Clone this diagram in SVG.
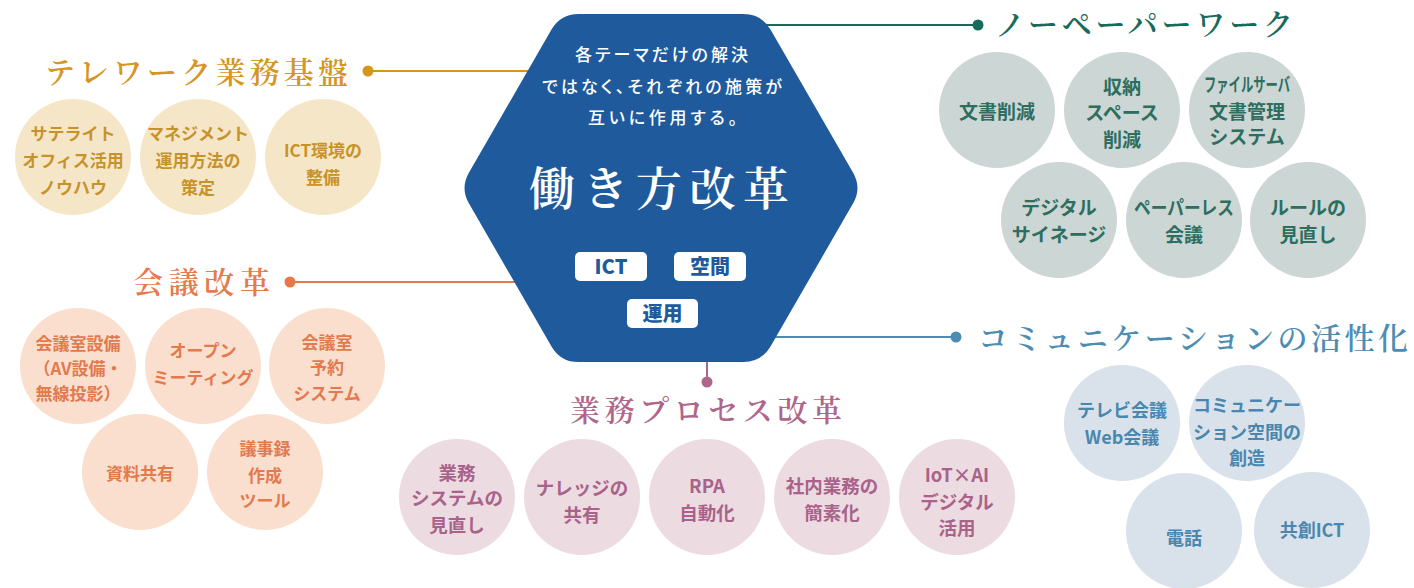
<svg xmlns="http://www.w3.org/2000/svg" width="1414" height="588" viewBox="0 0 1414 588">
<style>
  .t { font-family: "Noto Sans CJK JP", "Noto Sans", sans-serif; font-weight: 700; font-size: 17.5px; text-anchor: middle; }
  .ttl { font-family: "Noto Serif CJK JP", "Noto Sans CJK JP", serif; font-weight: 600; font-size: 30px; }
  .gold-c { fill: #f6e6c8; } .gold-t { fill: #c8922a; font-size: 17px; }
  .teal-c { fill: #ccd6d4; } .teal-t { fill: #2d6e5f; font-size: 19px; }
  .org-c { fill: #fadfcf; } .org-t { fill: #e27a4e; font-size: 17px; }
  .pink-c { fill: #ecdbe1; } .pink-t { fill: #a9628a; font-size: 18.5px; }
  .blue-c { fill: #d9e2ea; } .blue-t { fill: #4a87ae; font-size: 18px; }
  .ln { stroke-width: 2; fill: none; }
  .hx { font-family: "Noto Sans CJK JP", sans-serif; font-weight: 500; font-size: 17px; fill: #ffffff; font-feature-settings: "palt"; }
  .pill { fill: #ffffff; }
  .pt { font-family: "Noto Sans CJK JP", "Noto Sans", sans-serif; font-weight: 900; font-size: 20px; fill: #1f5b9c; text-anchor: middle; }
</style>

<g id="connectors">
  <line class="ln" x1="368" y1="71" x2="620" y2="71" stroke="#d4961e"/>
  <circle cx="368" cy="71" r="5.5" fill="#d4961e"/>
  <line class="ln" x1="700" y1="25" x2="978" y2="25" stroke="#176b5b"/>
  <circle cx="978" cy="25" r="5.5" fill="#176b5b"/>
  <line class="ln" x1="290" y1="282" x2="620" y2="282" stroke="#e8784a"/>
  <circle cx="290" cy="282" r="5.5" fill="#e8784a"/>
  <line class="ln" x1="707" y1="300" x2="707" y2="382" stroke="#b0668a"/>
  <circle cx="707" cy="382" r="5.5" fill="#b0668a"/>
  <line class="ln" x1="720" y1="337" x2="956" y2="337" stroke="#4e8db3"/>
  <circle cx="956" cy="337" r="5.5" fill="#4e8db3"/>
</g>

<g id="hub">
  <path d="M578.5,14 L743.5,14 Q761.5,14 770.5,29.6 L853,172.4 Q862,188 853,203.6 L770.5,346.4 Q761.5,362 743.5,362 L578.5,362 Q560.5,362 551.5,346.4 L469,203.6 Q460,188 469,172.4 L551.5,29.6 Q560.5,14 578.5,14 Z" fill="#1f5b9c"/>
  <text class="hx" x="575" y="61" textLength="173" lengthAdjust="spacing">各テーマだけの解決</text>
  <text class="hx" x="542" y="93" textLength="240" lengthAdjust="spacing">ではなく、それぞれの施策が</text>
  <text class="hx" x="588" y="124" textLength="149" lengthAdjust="spacing">互いに作用する。</text>
  <text x="529" y="205" font-family="Noto Serif CJK JP, Noto Sans CJK JP, serif" font-weight="600" font-size="46" fill="#ffffff" textLength="260" lengthAdjust="spacing">働き方改革</text>
  <rect class="pill" x="575" y="252" width="72" height="29" rx="5"/>
  <text class="pt" x="611" y="273.5">ICT</text>
  <rect class="pill" x="674" y="252" width="72" height="29" rx="5"/>
  <text class="pt" x="710" y="273.5">空間</text>
  <rect class="pill" x="627" y="299" width="71" height="29" rx="5"/>
  <text class="pt" x="662.5" y="320.5">運用</text>
</g>

<g id="telework">
  <text class="ttl" x="45" y="83" fill="#d4961e" textLength="303" lengthAdjust="spacing">テレワーク業務基盤</text>
  <g id="tw1"><circle class="gold-c" cx="73" cy="157" r="58"/>
    <text class="t gold-t" x="73" y="139.5">サテライト</text>
    <text class="t gold-t" x="73" y="167">オフィス活用</text>
    <text class="t gold-t" x="73" y="194">ノウハウ</text></g>
  <g id="tw2"><circle class="gold-c" cx="198" cy="157" r="58"/>
    <text class="t gold-t" x="198" y="139.5">マネジメント</text>
    <text class="t gold-t" x="198" y="167">運用方法の</text>
    <text class="t gold-t" x="198" y="194">策定</text></g>
  <g id="tw3"><circle class="gold-c" cx="323" cy="157" r="58"/>
    <text class="t gold-t" x="323" y="156.5">ICT環境の</text>
    <text class="t gold-t" x="323" y="183.5">整備</text></g>
</g>

<g id="paperless">
  <text class="ttl" x="995" y="35" fill="#176b5b" textLength="298" lengthAdjust="spacing">ノーペーパーワーク</text>
  <g id="pp1"><circle class="teal-c" cx="997" cy="110" r="58"/>
    <text class="t teal-t" x="997" y="118.5">文書削減</text></g>
  <g id="pp2"><circle class="teal-c" cx="1122" cy="110" r="58"/>
    <text class="t teal-t" x="1122" y="93.5">収納</text>
    <text class="t teal-t" x="1122" y="120">スペース</text>
    <text class="t teal-t" x="1122" y="147">削減</text></g>
  <g id="pp3"><circle class="teal-c" cx="1247" cy="110" r="58"/>
    <text class="t teal-t" x="1247" y="92" font-size="15" textLength="86" lengthAdjust="spacingAndGlyphs">ファイルサーバ</text>
    <text class="t teal-t" x="1247" y="119">文書管理</text>
    <text class="t teal-t" x="1247" y="144">システム</text></g>
  <g id="pp4"><circle class="teal-c" cx="1059" cy="220" r="58"/>
    <text class="t teal-t" x="1059" y="215">デジタル</text>
    <text class="t teal-t" x="1059" y="242">サイネージ</text></g>
  <g id="pp5"><circle class="teal-c" cx="1184" cy="220" r="58"/>
    <text class="t teal-t" x="1184" y="215" textLength="100" lengthAdjust="spacingAndGlyphs">ペーパーレス</text>
    <text class="t teal-t" x="1184" y="242">会議</text></g>
  <g id="pp6"><circle class="teal-c" cx="1308" cy="220" r="58"/>
    <text class="t teal-t" x="1308" y="215">ルールの</text>
    <text class="t teal-t" x="1308" y="242">見直し</text></g>
</g>

<g id="meeting">
  <text class="ttl" x="133" y="293" fill="#e67a4c" textLength="137" lengthAdjust="spacing">会議改革</text>
  <g id="mt1"><circle class="org-c" cx="78" cy="366" r="58"/>
    <text class="t org-t" x="78" y="349.5">会議室設備</text>
    <text class="t org-t" x="78" y="374.5">（AV設備・</text>
    <text class="t org-t" x="78" y="399.5">無線投影）</text></g>
  <g id="mt2"><circle class="org-c" cx="203" cy="366" r="58"/>
    <text class="t org-t" x="203" y="356.5">オープン</text>
    <text class="t org-t" x="203" y="383.5">ミーティング</text></g>
  <g id="mt3"><circle class="org-c" cx="327" cy="366" r="58"/>
    <text class="t org-t" x="327" y="348.5">会議室</text>
    <text class="t org-t" x="327" y="373.5">予約</text>
    <text class="t org-t" x="327" y="399.5">システム</text></g>
  <g id="mt4"><circle class="org-c" cx="140" cy="472" r="58"/>
    <text class="t org-t" x="140" y="479.5">資料共有</text></g>
  <g id="mt5"><circle class="org-c" cx="265" cy="472" r="58"/>
    <text class="t org-t" x="265" y="454.5">議事録</text>
    <text class="t org-t" x="265" y="481.5">作成</text>
    <text class="t org-t" x="265" y="506.5">ツール</text></g>
</g>

<g id="process">
  <text class="ttl" x="570" y="421" fill="#b0668a" textLength="272" lengthAdjust="spacing">業務プロセス改革</text>
  <g id="bp1"><circle class="pink-c" cx="457" cy="497" r="58"/>
    <text class="t pink-t" x="457" y="479.5">業務</text>
    <text class="t pink-t" x="457" y="505">システムの</text>
    <text class="t pink-t" x="457" y="532">見直し</text></g>
  <g id="bp2"><circle class="pink-c" cx="582" cy="497" r="58"/>
    <text class="t pink-t" x="582" y="495">ナレッジの</text>
    <text class="t pink-t" x="582" y="522">共有</text></g>
  <g id="bp3"><circle class="pink-c" cx="707" cy="497" r="58"/>
    <text class="t pink-t" x="707" y="493">RPA</text>
    <text class="t pink-t" x="707" y="520">自動化</text></g>
  <g id="bp4"><circle class="pink-c" cx="832" cy="497" r="58"/>
    <text class="t pink-t" x="832" y="493">社内業務の</text>
    <text class="t pink-t" x="832" y="520">簡素化</text></g>
  <g id="bp5"><circle class="pink-c" cx="957" cy="497" r="58"/>
    <text class="t pink-t" x="957" y="482">IoT×AI</text>
    <text class="t pink-t" x="957" y="509">デジタル</text>
    <text class="t pink-t" x="957" y="535">活用</text></g>
</g>

<g id="communication">
  <text class="ttl" x="978" y="349" fill="#4e8db3" textLength="430" lengthAdjust="spacing">コミュニケーションの活性化</text>
  <g id="cm1"><circle class="blue-c" cx="1122" cy="423" r="58"/>
    <text class="t blue-t" x="1122" y="416.5">テレビ会議</text>
    <text class="t blue-t" x="1122" y="443.5">Web会議</text></g>
  <g id="cm2"><circle class="blue-c" cx="1247" cy="423" r="58"/>
    <text class="t blue-t" x="1247" y="411.5">コミュニケー</text>
    <text class="t blue-t" x="1247" y="438.5">ション空間の</text>
    <text class="t blue-t" x="1247" y="464.5">創造</text></g>
  <g id="cm3"><circle class="blue-c" cx="1184" cy="531" r="58"/>
    <text class="t blue-t" x="1184" y="544.5">電話</text></g>
  <g id="cm4"><circle class="blue-c" cx="1312" cy="530" r="58"/>
    <text class="t blue-t" x="1312" y="536.5">共創ICT</text></g>
</g>
</svg>
